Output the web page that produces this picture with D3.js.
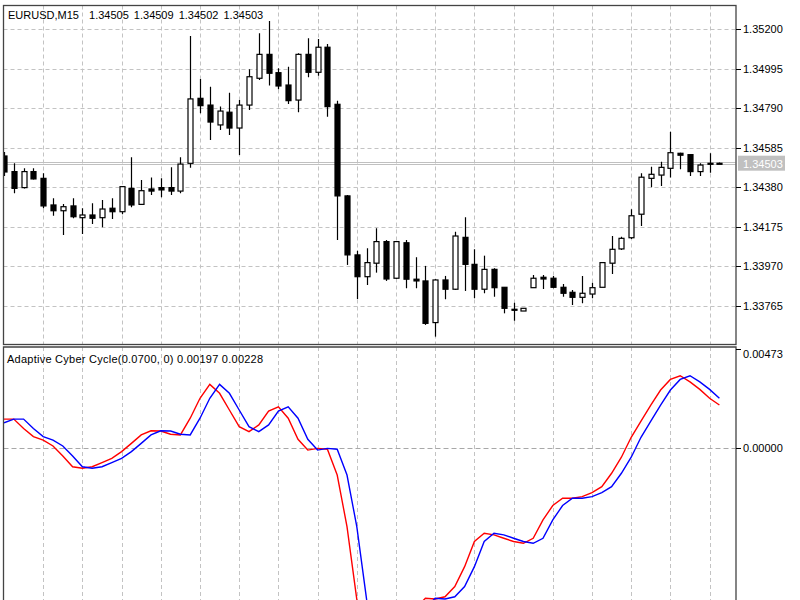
<!DOCTYPE html>
<html>
<head>
<meta charset="utf-8">
<script src="https://cdn.jsdelivr.net/npm/d3@7"></script>
<style>
  body { margin: 0; background: #fff; }
  svg { display: block; font-family: "Liberation Sans", Arial, sans-serif; }
</style>
</head>
<body>
<div id="chart"></div>
<script>
// chart header
var symbol = "EURUSD,M15";
var indicatorName = "Adaptive Cyber Cycle(0.0700, 0)";

// OHLC of the 74 visible M15 bars (left to right)
var opens = [1.34543,1.34462,1.34379,1.34462,1.34427,1.34289,1.34259,1.34284,1.34223,1.34237,
  1.34223,1.34272,1.34254,1.34375,1.34292,1.34372,1.34379,1.34379,1.34361,1.34505,
  1.34842,1.34807,1.34704,1.34770,1.34688,1.34807,1.34946,1.35070,1.34975,1.34911,
  1.34833,1.35070,1.34977,1.35107,1.34811,1.34336,1.34030,1.33917,1.33987,1.34099,
  1.33909,1.34093,1.33904,1.33895,1.33679,1.33900,1.33852,1.34121,1.33981,1.33852,
  1.33955,1.33862,1.33748,1.33739,1.33860,1.33914,1.33909,1.33862,1.33836,1.33810,
  1.33827,1.33862,1.33987,1.34061,1.34119,1.34241,1.34427,1.34444,1.34479,1.34557,
  1.34550,1.34462,1.34505,1.34505];
var highs = [1.34564,1.34505,1.34479,1.34479,1.34453,1.34324,1.34294,1.34324,1.34272,1.34298,
  1.34315,1.34324,1.34387,1.34536,1.34418,1.34432,1.34427,1.34484,1.34536,1.35165,
  1.34942,1.34902,1.34799,1.34871,1.34833,1.34993,1.35179,1.35243,1.34998,1.35006,
  1.35076,1.35153,1.35150,1.35124,1.34830,1.34341,1.34052,1.34064,1.34168,1.34107,
  1.34102,1.34107,1.34018,1.33973,1.33904,1.33921,1.34150,1.34225,1.34059,1.34026,
  1.33961,1.33862,1.33782,1.33753,1.33926,1.33926,1.33921,1.33879,1.33848,1.33921,
  1.33886,1.33990,1.34128,1.34124,1.34267,1.34453,1.34487,1.34513,1.34669,1.34560,
  1.34550,1.34505,1.34557,1.34509];
var lows = [1.34439,1.34350,1.34375,1.34421,1.34272,1.34233,1.34133,1.34220,1.34139,1.34190,
  1.34173,1.34216,1.34241,1.34277,1.34289,1.34341,1.34329,1.34341,1.34350,1.34482,
  1.34764,1.34626,1.34678,1.34652,1.34548,1.34781,1.34937,1.34908,1.34889,1.34813,
  1.34770,1.34951,1.34959,1.34747,1.34107,1.33978,1.33801,1.33874,1.33938,1.33895,
  1.33905,1.33857,1.33857,1.33667,1.33606,1.33800,1.33848,1.33843,1.33805,1.33831,
  1.33813,1.33727,1.33689,1.33739,1.33860,1.33853,1.33857,1.33813,1.33770,1.33779,
  1.33805,1.33862,1.33931,1.34055,1.34112,1.34180,1.34381,1.34387,1.34432,1.34474,
  1.34439,1.34439,1.34456,1.34502];
var closes = [1.34460,1.34375,1.34462,1.34424,1.34284,1.34259,1.34280,1.34228,1.34237,1.34220,
  1.34268,1.34254,1.34384,1.34289,1.34363,1.34361,1.34367,1.34361,1.34501,1.34839,
  1.34804,1.34719,1.34776,1.34688,1.34807,1.34954,1.35070,1.34972,1.34906,1.34830,
  1.35070,1.34977,1.35107,1.34799,1.34336,1.34030,1.33917,1.33990,1.34099,1.33905,
  1.34099,1.33904,1.33895,1.33675,1.33900,1.33852,1.34128,1.33981,1.33852,1.33955,
  1.33860,1.33753,1.33744,1.33753,1.33909,1.33905,1.33862,1.33831,1.33810,1.33831,
  1.33860,1.33990,1.34059,1.34116,1.34233,1.34433,1.34448,1.34484,1.34560,1.34547,
  1.34462,1.34496,1.34500,1.34503];

var priceTicks = [1.35200, 1.34995, 1.34790, 1.34585, 1.34380, 1.34175, 1.33970, 1.33765];
var lastPrice = 1.34503;

// indicator: cycle (red) and trigger (blue)
var cycle = [0.00132,0.00132,0.00089,0.00051,0.00035,0.00008,-0.00038,-0.00088,-0.00095,-0.00088,
  -0.00069,-0.00049,-0.00018,0.00020,0.00059,0.00078,0.00077,0.00062,0.00059,0.00136,
  0.00228,0.00292,0.00251,0.00174,0.00097,0.00074,0.00105,0.00169,0.00189,0.00136,
  0.00039,-0.00011,-0.00003,-0.00007,-0.00126,-0.00364,-0.00700,-0.00850,-0.00920,-0.00940,
  -0.00900,-0.00820,-0.00740,-0.00695,-0.00698,-0.00688,-0.00641,-0.00549,-0.00433,-0.00395,
  -0.00402,-0.00418,-0.00433,-0.00441,-0.00418,-0.00333,-0.00267,-0.00233,-0.00233,-0.00226,
  -0.00207,-0.00180,-0.00118,-0.00044,0.00048,0.00123,0.00197,0.00266,0.00315,0.00332,
  0.00304,0.00269,0.00228,0.00197];
var trigger = [0.00115,0.00132,0.00132,0.00089,0.00051,0.00035,0.00008,-0.00038,-0.00088,-0.00095,
  -0.00088,-0.00069,-0.00049,-0.00018,0.00020,0.00059,0.00078,0.00077,0.00062,0.00059,
  0.00136,0.00228,0.00292,0.00251,0.00174,0.00097,0.00074,0.00105,0.00169,0.00189,
  0.00136,0.00039,-0.00011,-0.00003,-0.00007,-0.00126,-0.00364,-0.00700,-0.00850,-0.00920,
  -0.00940,-0.00900,-0.00820,-0.00740,-0.00695,-0.00698,-0.00688,-0.00641,-0.00549,-0.00433,
  -0.00395,-0.00402,-0.00418,-0.00433,-0.00441,-0.00418,-0.00333,-0.00267,-0.00233,-0.00233,
  -0.00226,-0.00207,-0.00180,-0.00118,-0.00044,0.00048,0.00123,0.00197,0.00266,0.00315,
  0.00332,0.00304,0.00269,0.00228];
var indTicks = [0.00473, 0.00000];

// layout
var left = 3.5, right = 736;
var mainTop = 5.5, mainBottom = 344.5;
var indTop = 347, indBottom = 640;

var bars = d3.range(opens.length).map(function(i) {
  return { i: i, o: opens[i], h: highs[i], l: lows[i], c: closes[i] };
});

var svg = d3.select("#chart").append("svg")
  .attr("width", 800).attr("height", 600);

var x = d3.scaleLinear().domain([0, 73]).range([4, 719.4]);
var y = d3.scaleLinear().domain([1.33765, 1.35200]).range([306, 29.3]);
var yi = d3.scaleLinear().domain([0, 0.00473]).range([447.7, 345.2]);

var gridIdx = d3.range(4, 73, 4);
var gridColor = "#c3c3c3";

svg.append("clipPath").attr("id", "clipMain").append("rect")
  .attr("x", left + 0.5).attr("y", mainTop + 0.5)
  .attr("width", right - left - 1).attr("height", mainBottom - mainTop - 1);
svg.append("clipPath").attr("id", "clipInd").append("rect")
  .attr("x", left + 0.5).attr("y", indTop + 0.5)
  .attr("width", right - left - 1).attr("height", indBottom - indTop);

// ---- main pane ----
var main = svg.append("g").attr("clip-path", "url(#clipMain)");

main.selectAll(".vgrid").data(gridIdx).enter().append("line")
  .attr("x1", function(d) { return Math.round(x(d)) + 0.5; })
  .attr("x2", function(d) { return Math.round(x(d)) + 0.5; })
  .attr("y1", mainTop).attr("y2", mainBottom)
  .attr("stroke", gridColor).attr("stroke-dasharray", "4,3");

main.selectAll(".hgrid").data(priceTicks).enter().append("line")
  .attr("x1", left).attr("x2", right)
  .attr("y1", function(d) { return Math.round(y(d)) + 0.5; })
  .attr("y2", function(d) { return Math.round(y(d)) + 0.5; })
  .attr("stroke", gridColor).attr("stroke-dasharray", "4,3");

// bid line
[-2, 0].forEach(function(off) {
  main.append("line")
    .attr("x1", left).attr("x2", right)
    .attr("y1", Math.round(y(lastPrice)) + off + 0.5)
    .attr("y2", Math.round(y(lastPrice)) + off + 0.5)
    .attr("stroke", "#c0c0c0").attr("stroke-width", 1);
});

var candle = main.selectAll(".candle").data(bars).enter().append("g");

candle.append("line")
  .attr("x1", function(d) { return Math.round(x(d.i)) + 0.5; })
  .attr("x2", function(d) { return Math.round(x(d.i)) + 0.5; })
  .attr("y1", function(d) { return y(d.h); })
  .attr("y2", function(d) { return y(d.l); })
  .attr("stroke", "#000").attr("stroke-width", 1.2);

candle.append("rect")
  .attr("x", function(d) { return Math.round(x(d.i)) - 2; })
  .attr("width", 5)
  .attr("y", function(d) { return y(Math.max(d.o, d.c)); })
  .attr("height", function(d) { return Math.max(1, Math.abs(y(d.o) - y(d.c))); })
  .attr("fill", function(d) { return d.c < d.o ? "#000" : "#fff"; })
  .attr("stroke", "#000").attr("stroke-width", 1.2);

svg.append("rect")
  .attr("x", left).attr("y", mainTop)
  .attr("width", right - left).attr("height", mainBottom - mainTop)
  .attr("fill", "none").attr("stroke", "#444").attr("stroke-width", 1.3);

svg.append("text").attr("x", 8).attr("y", 19.3)
  .attr("font-size", "11px").attr("fill", "#000")
  .attr("xml:space", "preserve")
  .style("word-spacing", "2px")
  .text(symbol + "  " + [opens[73], highs[73], lows[73], closes[73]].map(function(v) { return v.toFixed(5); }).join(" "));

// price axis
var pAxis = svg.append("g");
pAxis.selectAll("line").data(priceTicks).enter().append("line")
  .attr("x1", right).attr("x2", right + 5)
  .attr("y1", function(d) { return Math.round(y(d)) + 0.5; })
  .attr("y2", function(d) { return Math.round(y(d)) + 0.5; })
  .attr("stroke", "#000");
pAxis.selectAll("text").data(priceTicks).enter().append("text")
  .attr("x", right + 7).attr("y", function(d) { return y(d) + 4; })
  .attr("font-size", "11px").attr("fill", "#000")
  .text(function(d) { return d.toFixed(5); });

svg.append("rect")
  .attr("x", right + 2).attr("y", y(lastPrice) - 8)
  .attr("width", 47).attr("height", 15)
  .attr("fill", "#c0c0c0");
svg.append("text")
  .attr("x", right + 7).attr("y", y(lastPrice) + 4)
  .attr("font-size", "11px").attr("fill", "#fff")
  .text(lastPrice.toFixed(5));

// ---- indicator pane ----
var ind = svg.append("g").attr("clip-path", "url(#clipInd)");

ind.selectAll(".vgrid").data(gridIdx).enter().append("line")
  .attr("x1", function(d) { return Math.round(x(d)) + 0.5; })
  .attr("x2", function(d) { return Math.round(x(d)) + 0.5; })
  .attr("y1", indTop).attr("y2", indBottom)
  .attr("stroke", gridColor).attr("stroke-dasharray", "4,3");

ind.append("line")
  .attr("x1", left).attr("x2", right)
  .attr("y1", Math.round(yi(0)) + 0.5).attr("y2", Math.round(yi(0)) + 0.5)
  .attr("stroke", "#a8a8a8").attr("stroke-dasharray", "5,3");

var lineGen = d3.line()
  .x(function(d, i) { return x(i); })
  .y(function(d) { return yi(d); });

ind.append("path").datum(cycle)
  .attr("d", lineGen).attr("fill", "none")
  .attr("stroke", "#ff0000").attr("stroke-width", 1.4);
ind.append("path").datum(trigger)
  .attr("d", lineGen).attr("fill", "none")
  .attr("stroke", "#0000ff").attr("stroke-width", 1.4);

svg.append("path")
  .attr("d", "M" + left + "," + indBottom + "V" + indTop + "H" + right + "V" + indBottom)
  .attr("fill", "none").attr("stroke", "#444").attr("stroke-width", 1.3);

svg.append("text").attr("x", 7).attr("y", 362.5)
  .attr("font-size", "11px").attr("fill", "#000")
  .style("letter-spacing", "0.25px")
  .text(indicatorName + " " + cycle[73].toFixed(5) + " " + trigger[73].toFixed(5));

var iAxis = svg.append("g");
iAxis.append("line")
  .attr("x1", right).attr("x2", right + 5)
  .attr("y1", indTop + 2.5).attr("y2", indTop + 2.5).attr("stroke", "#000");
iAxis.append("text")
  .attr("x", right + 7).attr("y", 358)
  .attr("font-size", "11px").text(indTicks[0].toFixed(5));
iAxis.append("line")
  .attr("x1", right).attr("x2", right + 5)
  .attr("y1", Math.round(yi(0)) + 0.5).attr("y2", Math.round(yi(0)) + 0.5)
  .attr("stroke", "#000");
iAxis.append("text")
  .attr("x", right + 7).attr("y", yi(0) + 4)
  .attr("font-size", "11px").text(indTicks[1].toFixed(5));
</script>
</body>
</html>
